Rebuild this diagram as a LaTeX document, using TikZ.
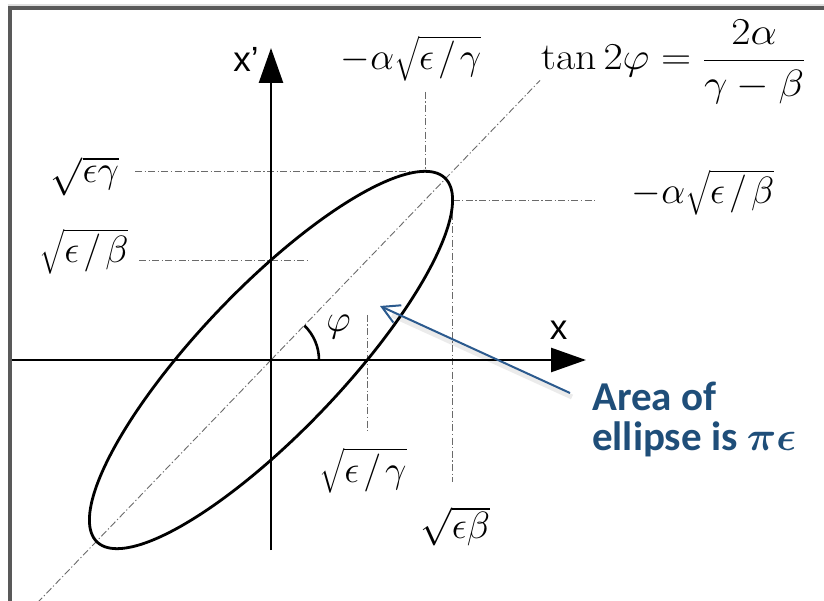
\RequirePackage{fix-cm}
\documentclass[tikz,border=0pt]{standalone}
\usepackage{exscale}
\usepackage{fontspec}
\newfontfamily\arialfont{Liberation Sans}
\newfontfamily\calfont{Carlito}
\usetikzlibrary{arrows.meta,calc}
\definecolor{framegray}{HTML}{595959}
\definecolor{guidegray}{HTML}{6A6A6A}
\definecolor{noteblue}{HTML}{1F4E79}
\definecolor{arrowblue}{HTML}{2B5A8E}
\newcommand{\wideslash}{\mkern2mu/\mkern2mu}
\begin{document}
\begin{tikzpicture}[x=1pt,y=-1pt,
  axis/.style={line width=2.6pt,-{Triangle[length=35pt,width=24pt]}},
  guide/.style={draw=guidegray,line width=0.9pt,dash pattern=on 7pt off 2.5pt on 1.2pt off 2.5pt},
  curve/.style={line width=2.8pt,line join=round},
  mlabel/.style={inner sep=0pt,font=\fontsize{38}{42}\selectfont},
  axlabel/.style={inner sep=0pt,font=\arialfont\fontsize{35}{40}\selectfont},
  notetxt/.style={inner sep=0pt,anchor=base west,text=noteblue,font=\calfont\bfseries\fontsize{41}{41}\selectfont},
  framestyle/.style={draw=framegray,line width=4pt}
]
\useasboundingbox (0,0) rectangle (824,601);
\fill[white] (0,0) rectangle (824,601);
% frame
\draw[gray!25,line width=1.6pt] (7.5,5.2) -- (824,5.2);
\draw[framestyle] (9.5,601) -- (9.5,8.5) -- (824,8.5);

% key points
\coordinate (O) at (271,360);
\coordinate (xstart) at (12,360);
\coordinate (xend) at (586,360);
\coordinate (ystart) at (271,550);
\coordinate (yend) at (271,48);
\coordinate (T) at (425,171.3);
\coordinate (R) at (452.6,200);

% guide lines
\draw[guide] (O) -- ++(133.9:336);
\draw[guide] (O) -- ++(-46.1:388);
\draw[guide] (135,171.3) -- (T);
\draw[guide] (425,92) -- (T);
\draw[guide] (139,260) -- (310,260);
\draw[guide] (R) -- (597,200);
\draw[guide] (R) -- (452.6,482);
\draw[guide] (367.3,315) -- (367.3,433);

% axes
\draw[axis] (xstart) -- (xend);
\draw[axis] (ystart) -- (yend);

% ellipse
\draw[curve] plot[smooth cycle,domain=0:356,samples=90,variable=\t]
  ({271+181.6*cos(\t)},{360-160*cos(\t)+100*sin(\t)});

% angle arc
\draw[line width=2.6pt] (O) ++(48,0) arc[start angle=0,end angle=-46,radius=48];

% labels
\node[axlabel,anchor=base] (xl) at (558.5,340) {x};
\node[axlabel,anchor=base] (xpl) at (246,72) {x’};
\node[mlabel,anchor=base] (lt) at (411,70) {$-\alpha\sqrt{\epsilon\wideslash\gamma}$};
\node[mlabel,anchor=base west] (tanf) at (541,70) {\scalebox{1.1}[1]{$\tan 2\varphi = {\displaystyle\frac{2\alpha}{\gamma-\beta}}$}};
\node[mlabel,anchor=base] (lr) at (703,204) {$-\alpha\sqrt{\epsilon\wideslash\beta}$};
\node[mlabel,anchor=base] (l1) at (85,183) {$\sqrt{\epsilon\gamma}$};
\node[mlabel,anchor=base] (l2) at (84,263) {$\sqrt{\epsilon\wideslash\beta}$};
\node[mlabel,anchor=base] (l3) at (363,482) {$\sqrt{\epsilon\wideslash\gamma}$};
\node[mlabel,anchor=base] (l4) at (455,538) {$\sqrt{\epsilon\beta}$};
\node[mlabel,anchor=base] (phi) at (338.5,331) {$\varphi$};

% note
\node[notetxt] (area) at (592,410) {Area of};
\node[notetxt] (ell) at (592,450) {ellipse is {\boldmath$\pi\epsilon$}};

% note arrow
\coordinate (tail) at (570,393);
\coordinate (tip) at (380,306);
\draw[black,opacity=0.08,line width=5pt] ($(tail)+(2,4)$) -- ($(tip)+(12,9)$);
\draw[arrowblue,line width=2pt,-{Straight Barb[length=17pt,width=19pt]}] (tail) -- (tip);
\end{tikzpicture}
\end{document}
